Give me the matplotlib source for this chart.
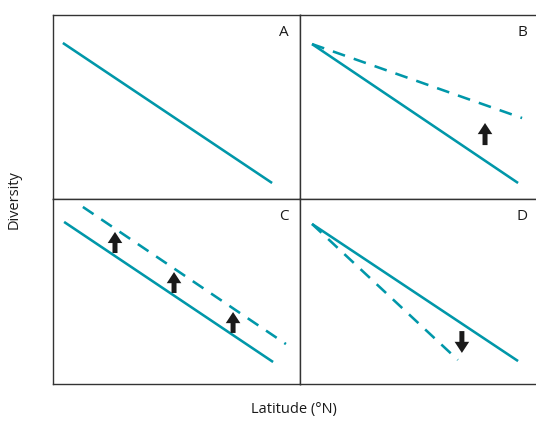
import matplotlib.pyplot as plt

plt.rcParams['font.family'] = ['Open Sans', 'DejaVu Sans']

TEAL = '#0097a9'
INK = '#1a1a1a'

panel_labels = ['A', 'B', 'C', 'D']

# Baseline relationship (solid) per panel: latitude start/end, diversity start/end
solid_lat = {'A': (0.04, 0.887), 'B': (0.051, 0.924), 'C': (0.045, 0.891), 'D': (0.051, 0.924)}
solid_div = {'A': (0.848, 0.087), 'B': (0.842, 0.087), 'C': (0.876, 0.119), 'D': (0.865, 0.124)}

# Altered relationship (dashed)
dashed_lat = {'B': (0.051, 0.941), 'C': (0.121, 0.943), 'D': (0.051, 0.669)}
dashed_div = {'B': (0.842, 0.44), 'C': (0.957, 0.216), 'D': (0.865, 0.13)}

# Arrows: latitude, tail diversity, head diversity
arrow_lat = {'B': [0.784], 'C': [0.251, 0.49, 0.729], 'D': [0.686]}
arrow_tail = {'B': [0.293], 'C': [0.708, 0.492, 0.276], 'D': [0.286]}
arrow_head = {'B': [0.413], 'C': [0.822, 0.605, 0.389], 'D': [0.168]}

W, H = 536, 423
fig = plt.figure(figsize=(W / 100, H / 100), dpi=100)

# panel boxes in pixels: (left, top, right, bottom)
boxes = {
    'A': (53, 15, 300, 199),
    'B': (300, 15, 536, 199),
    'C': (53, 199, 300, 384),
    'D': (300, 199, 536, 384),
}

for lab in panel_labels:
    l, t, r, b = boxes[lab]
    ax = fig.add_axes([l / W, 1 - b / H, (r - l) / W, (b - t) / H])
    ax.set_xlim(0, 1)
    ax.set_ylim(0, 1)
    ax.set_xticks([])
    ax.set_yticks([])
    for s in ax.spines.values():
        s.set_color('#333333')
        s.set_linewidth(1.0)
    if lab in 'BD':
        ax.spines['right'].set_visible(False)

    ax.plot(solid_lat[lab], solid_div[lab], color=TEAL, lw=1.85,
            solid_capstyle='butt')
    if lab in dashed_lat:
        ax.plot(dashed_lat[lab], dashed_div[lab], color=TEAL, lw=1.85,
                linestyle=(0, (5, 3.6)), dash_capstyle='butt')
    if lab in arrow_lat:
        for x, y0, y1 in zip(arrow_lat[lab], arrow_tail[lab], arrow_head[lab]):
            ax.annotate('', xy=(x, y1), xytext=(x, y0),
                        arrowprops=dict(arrowstyle='simple,head_width=1.05,head_length=0.8,tail_width=0.36',
                                        mutation_scale=10, lw=0, color=INK,
                                        shrinkA=0, shrinkB=0))
    ax.text(0.955 if lab in 'AC' else 0.965, 0.905, lab,
            transform=ax.transAxes, ha='right', va='center', fontsize=11, color=INK)

fig.text(14 / W, 1 - 200 / H, 'Diversity', rotation=90, ha='center', va='center',
         fontsize=10.5, color=INK)
fig.text(294 / W, 1 - 409 / H, 'Latitude (°N)', ha='center', va='center',
         fontsize=10.5, color=INK)

fig.savefig('out.png', dpi=100)
